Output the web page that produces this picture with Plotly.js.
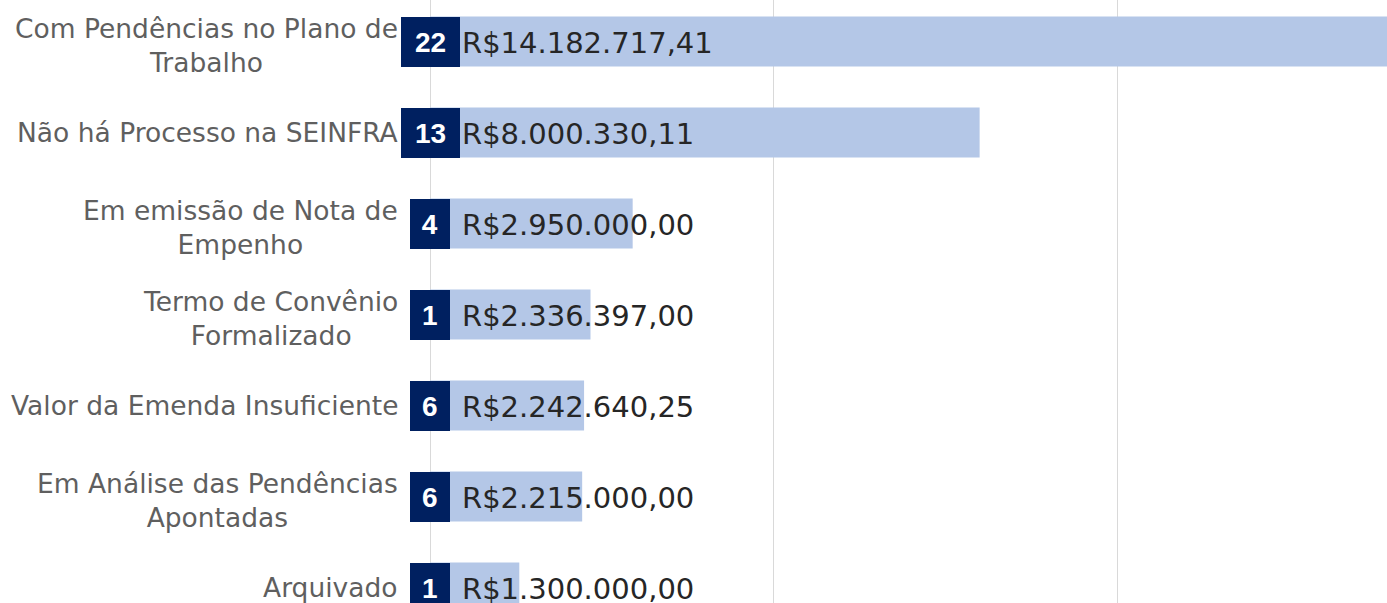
<!DOCTYPE html>
<html>
<head>
<meta charset="utf-8">
<script src="https://cdn.plot.ly/plotly-3.0.1.min.js"></script>
<style>
  html, body { margin: 0; padding: 0; background: #ffffff; }
  #chart { width: 1387px; height: 603px; }
</style>
</head>
<body>
<div id="chart"></div>
<script>
// ---- data ----
const categorias = [
  "Com Pendências no Plano de<br>Trabalho",
  "Não há Processo na SEINFRA",
  "Em emissão de Nota de<br>Empenho",
  "Termo de Convênio<br>Formalizado",
  "Valor da Emenda Insuficiente",
  "Em Análise das Pendências<br>Apontadas",
  "Arquivado"
];
const valores = [14182717.41, 8000330.11, 2950000.00, 2336397.00, 2242640.25, 2215000.00, 1300000.00];
const quantidades = [22, 13, 4, 1, 6, 6, 1];
const gradeX = [0, 5000000, 10000000];

// ---- helpers ----
function formatBRL(v) {
  const cents = Math.round(v * 100);
  const inteiro = Math.floor(cents / 100).toString();
  const dec = String(cents % 100).padStart(2, "0");
  const comPontos = inteiro.replace(/\B(?=(\d{3})+(?!\d))/g, ".");
  return "R$" + comPontos + "," + dec;
}

const barColor = "#b4c7e7";
const navy = "#002060";

const trace = {
  type: "bar",
  orientation: "h",
  x: valores,
  y: categorias,
  width: 0.55,
  marker: { color: barColor },
  hoverinfo: "none",
  showlegend: false
};

const annotations = [];
categorias.forEach((cat, i) => {
  const multi = cat.indexOf("<br>") >= 0;
  // category label
  annotations.push({
    x: 0, xref: "x", y: cat, yref: "y",
    xanchor: "right", yanchor: "middle", xshift: -30, yshift: multi ? -4 : 0,
    text: cat, showarrow: false, align: "center",
    font: { family: "DejaVu Sans", size: 26.5, color: "#5f5f5f" }
  });
  // count box
  const n = String(quantidades[i]);
  annotations.push({
    x: 0, xref: "x", y: cat, yref: "y",
    xanchor: "center", yanchor: "middle",
    text: "<b>" + n + "</b>", showarrow: false,
    bgcolor: navy, borderwidth: 0, borderpad: 0,
    width: 20 + 19.5 * n.length, height: 50,
    font: { family: "Liberation Sans", size: 28, color: "#ffffff" }
  });
  // value label
  annotations.push({
    x: 0, xref: "x", y: cat, yref: "y",
    xanchor: "left", yanchor: "middle", xshift: 30, yshift: -1,
    text: formatBRL(valores[i]), showarrow: false,
    font: { family: "DejaVu Sans", size: 29, color: "#262626" }
  });
});

const layout = {
  width: 1387, height: 603,
  margin: { l: 420, r: 0, t: 0, b: 0, pad: 0 },
  paper_bgcolor: "#ffffff",
  plot_bgcolor: "#ffffff",
  xaxis: {
    range: [-145560, 13930000],
    tickvals: gradeX,
    showticklabels: false,
    showgrid: true, gridcolor: "#d9d9d9", gridwidth: 1,
    zeroline: false, showline: false, ticks: ""
  },
  yaxis: {
    type: "category",
    categoryarray: categorias, categoryorder: "array",
    range: [6.17, -0.456],
    showticklabels: false, showgrid: false, zeroline: false, showline: false, ticks: ""
  },
  annotations: annotations,
  font: { family: "DejaVu Sans" }
};

Plotly.newPlot("chart", [trace], layout, { displayModeBar: false, staticPlot: true });
</script>
</body>
</html>
